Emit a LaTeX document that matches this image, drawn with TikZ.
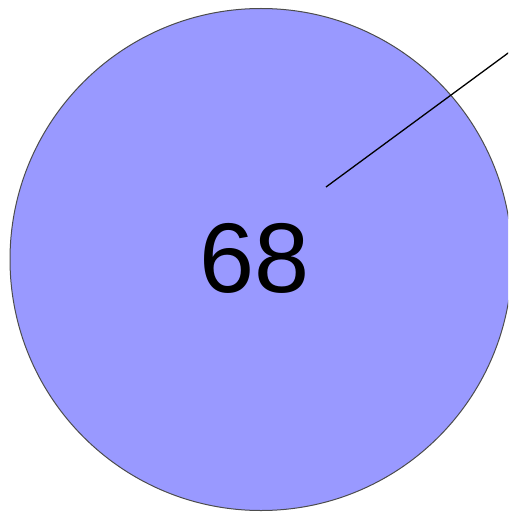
\documentclass[tikz,border=0pt]{standalone}
\usepackage{fontspec}
\setmainfont{Liberation Sans}
\definecolor{slice}{RGB}{153,153,255}
\begin{document}
\begin{tikzpicture}[x=1pt, y=-1pt,
    slicestyle/.style={circle, fill=slice, draw=black!70, line width=1pt, minimum size=502pt, inner sep=0pt},
    leader/.style={black, line width=1.3pt}]
  % --- bounding box ---
  \useasboundingbox (0,0) rectangle (508,513);
  \begin{scope}
    \clip (0,0) rectangle (508,513);
    \node[slicestyle] (pie) at (261,259.5) {};
    \node (value) at (255,258) {\fontsize{99}{99}\selectfont 68};
    \coordinate (tip) at (326,187);
    \coordinate (out) at (520,44.3);
    \draw[leader] (tip) -- (out);
  \end{scope}
\end{tikzpicture}
\end{document}
